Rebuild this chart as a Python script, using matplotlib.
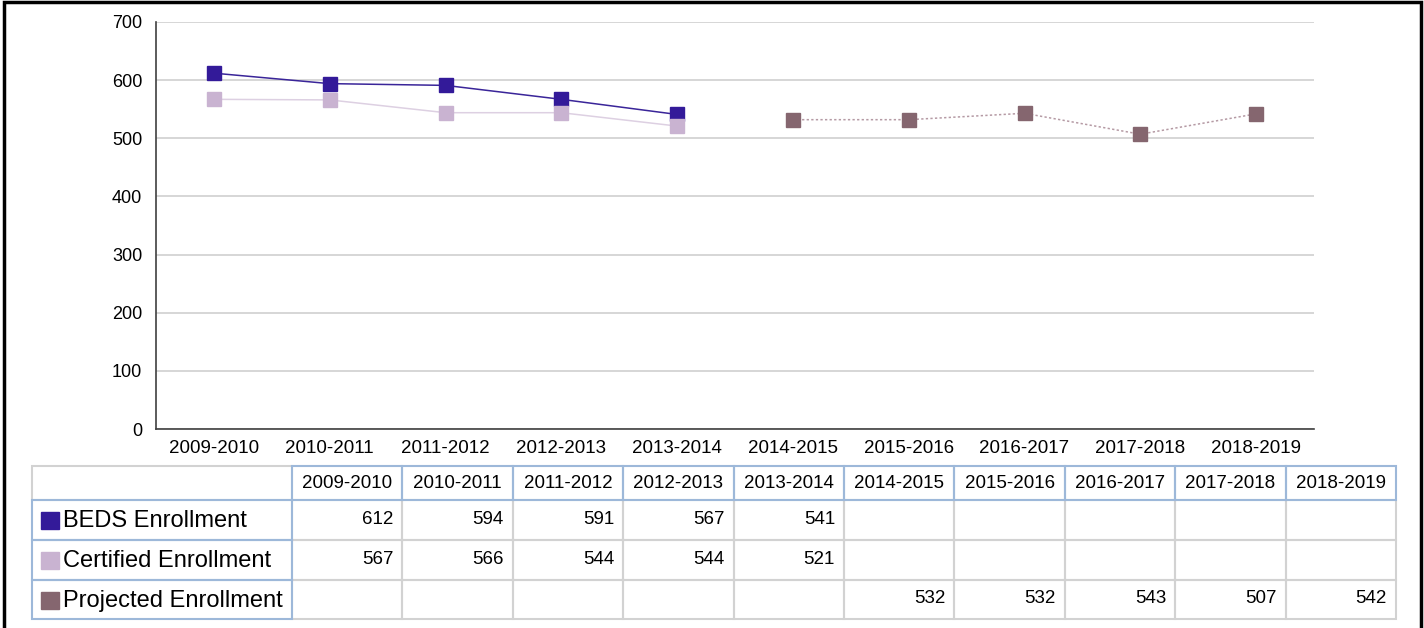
import matplotlib
matplotlib.use("Agg")
import matplotlib.pyplot as plt
from matplotlib.patches import Rectangle
import numpy as np

plt.rcParams['font.family'] = ['Liberation Sans', 'DejaVu Sans']

years = ["2009-2010", "2010-2011", "2011-2012", "2012-2013", "2013-2014",
         "2014-2015", "2015-2016", "2016-2017", "2017-2018", "2018-2019"]
beds = [612, 594, 591, 567, 541, None, None, None, None, None]
certified = [567, 566, 544, 544, 521, None, None, None, None, None]
projected = [None, None, None, None, None, 532, 532, 543, 507, 542]
series_names = ["BEDS Enrollment", "Certified Enrollment", "Projected Enrollment"]
yticks = [0, 100, 200, 300, 400, 500, 600, 700]

marker_colors = ["#331A99", "#C9B3D1", "#85666F"]
line_colors = ["#3A2599", "#DDD0E2", "#B59AA4"]
line_styles = ["-", "-", (0, (1.5, 1.5))]

W, H = 1424, 628
fig = plt.figure(figsize=(W / 100, H / 100), dpi=100)

# plot area
L, R, T, B = 156, 1314, 22, 429
ax = fig.add_axes([L / W, 1 - B / H, (R - L) / W, (B - T) / H])
x = np.arange(len(years))
for vals, mc, lc, ls in zip([beds, certified, projected], marker_colors, line_colors, line_styles):
    xs = [i for i, v in enumerate(vals) if v is not None]
    ys = [v for v in vals if v is not None]
    ax.plot(xs, ys, color=lc, lw=1.1, ls=ls, zorder=2)
    ax.plot(xs, ys, ls='none', marker='s', ms=10, color=mc, mec=mc, zorder=3)

ax.set_xlim(-0.5, len(years) - 0.5)
ax.set_ylim(0, 700)
ax.set_yticks(yticks)
ax.set_xticks(x)
ax.set_xticklabels(years, fontsize=13.5)
ax.tick_params(axis='y', labelsize=13, length=0, pad=10)
ax.tick_params(axis='x', length=0, pad=8)
ax.grid(axis='y', color='#D0D0D0', lw=1.2)
ax.set_axisbelow(True)
for s in ['top', 'right']:
    ax.spines[s].set_visible(False)
for s in ['left', 'bottom']:
    ax.spines[s].set_color('#404040')
    ax.spines[s].set_linewidth(1.2)

# overlay axes in pixel coordinates for the table and border
ov = fig.add_axes([0, 0, 1, 1])
ov.set_xlim(0, W)
ov.set_ylim(H, 0)
ov.axis('off')

gray = '#D2D2D2'
blue = '#9DB8D9'
tl, c0 = 32, 292
cw = (1396 - c0) / len(years)
row_y = [466, 500, 540, 580, 619]
col_x = [tl, c0] + [c0 + cw * (i + 1) for i in range(len(years))]

def cell(x0, y0, x1, y1, color, z):
    ov.add_patch(Rectangle((x0, y0), x1 - x0, y1 - y0, fill=False, ec=color, lw=1.5, zorder=z))

# data cells (gray)
for r in range(1, 4):
    for c in range(1, len(col_x) - 1):
        cell(col_x[c], row_y[r], col_x[c + 1], row_y[r + 1], gray, 1)
# top-left cell gray
cell(col_x[0], row_y[0], col_x[1], row_y[1], gray, 1)
# header cells blue
for c in range(1, len(col_x) - 1):
    cell(col_x[c], row_y[0], col_x[c + 1], row_y[1], blue, 2)
    ov.text((col_x[c] + col_x[c + 1]) / 2, (row_y[0] + row_y[1]) / 2 + 1, years[c - 1],
            ha='center', va='center', fontsize=13.5, color='black')
# row label cells blue
all_series = [beds, certified, projected]
for r in range(3):
    y0, y1 = row_y[r + 1], row_y[r + 2]
    cell(col_x[0], y0, col_x[1], y1, blue, 2)
    ov.add_patch(Rectangle((41, (y0 + y1) / 2 - 8), 18, 17, color=marker_colors[r], zorder=3))
    ov.text(63, (y0 + y1) / 2 + 1, series_names[r], ha='left', va='center', fontsize=17, color='black')
    for c, v in enumerate(all_series[r]):
        if v is not None:
            ov.text(col_x[c + 2] - 9, (y0 + y1) / 2 - 1, str(v), ha='right', va='center',
                    fontsize=13.5, color='black')

# outer border (left, top, right)
ov.plot([4, 4, 1421, 1421], [H, 2, 2, H], color='black', lw=2.5, solid_joinstyle='miter', zorder=5)

fig.savefig('out.png', dpi=100)
